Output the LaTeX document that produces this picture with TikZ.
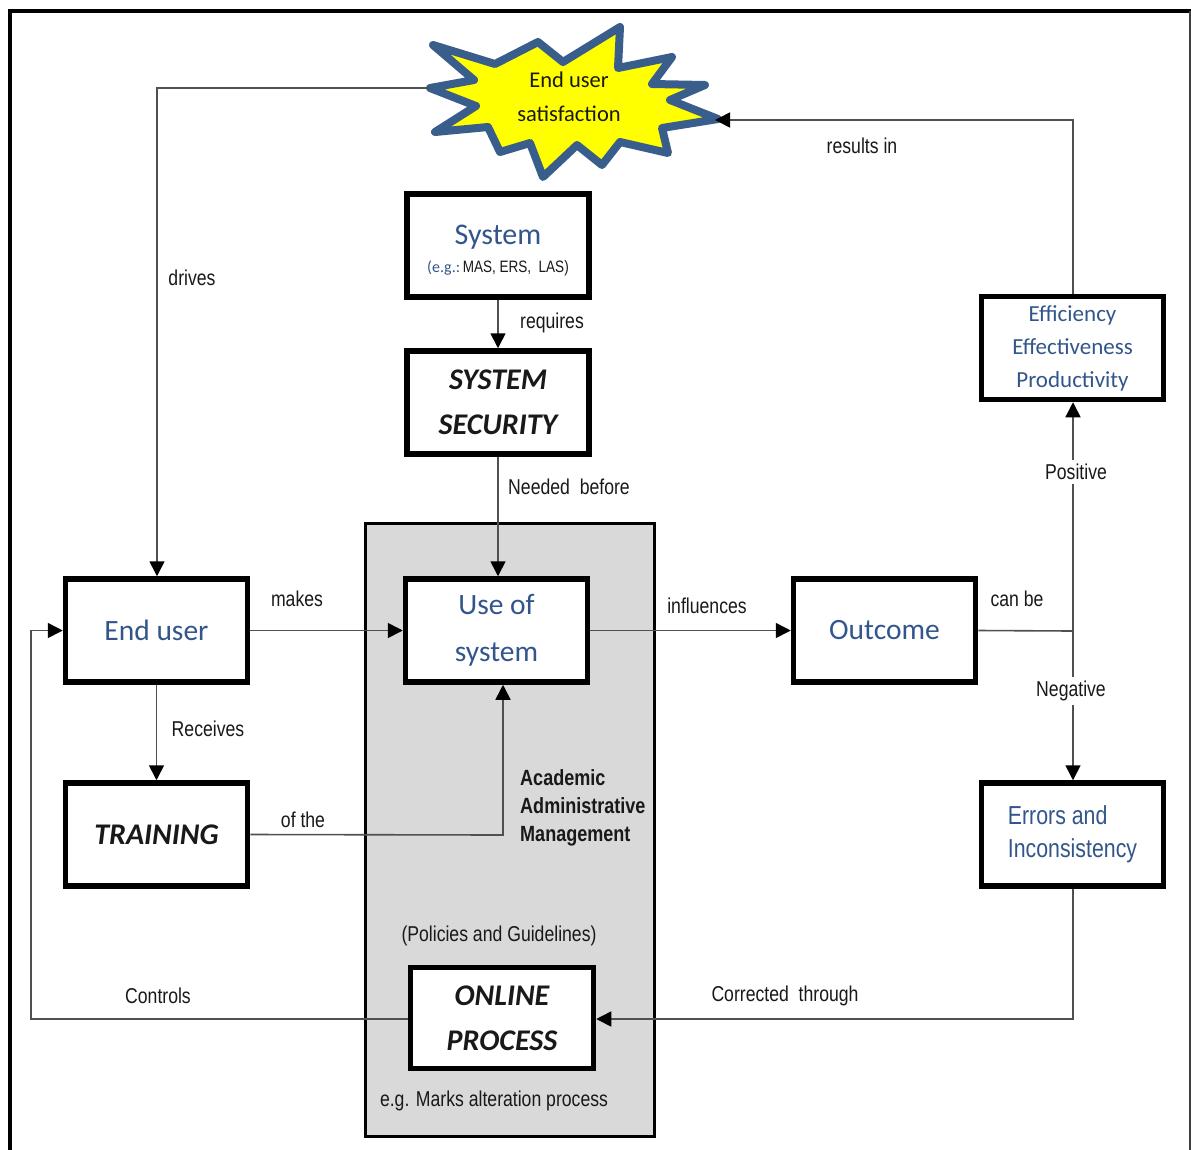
\documentclass[tikz,border=0pt]{standalone}
\usepackage{fontspec}
\setmainfont{Carlito}
\newfontfamily\narrowfont[FakeStretch=0.82]{Liberation Sans}
\usetikzlibrary{arrows.meta,calc}
\definecolor{boxblue}{RGB}{50,86,140}
\definecolor{starblue}{RGB}{58,94,140}
\definecolor{starfill}{RGB}{255,255,0}
\definecolor{wire}{RGB}{80,80,80}
\definecolor{panel}{RGB}{217,217,217}
\definecolor{ink}{RGB}{25,25,25}
\begin{document}
\begin{tikzpicture}[x=1pt,y=-1pt,
  box/.style={draw=black, line width=5.5pt, fill=white, minimum width=182pt,
    minimum height=103pt, inner sep=0pt, align=center},
  bluetext/.style={text=boxblue, font=\fontsize{29.5}{47}\selectfont},
  smallblue/.style={text=boxblue, font=\fontsize{23}{33}\selectfont},
  bolditalic/.style={text=ink, font=\fontsize{30}{45}\selectfont\bfseries\itshape},
  lbl/.style={text=ink, font=\narrowfont\fontsize{21.5}{28}\selectfont, inner sep=1pt},
  wirestyle/.style={draw=wire, line width=1.6pt},
  arr/.style={wirestyle, -{Triangle[length=15pt,width=15pt,color=black]}},
]
\useasboundingbox (0,0) rectangle (1191,1149);
\clip (0,0) rectangle (1191,1149);
\fill[white] (0,0) rectangle (1191,1149);

% outer frame
\draw[line width=4pt, line cap=rect] (10,1170) -- (10,11) -- (1190,11);
\draw[line width=2pt, draw=darkgray] (1190,11) -- (1190,1170);

% shaded panel behind the central column
\draw[line width=3pt, fill=panel] (365,523) rectangle (654,1136);

% star burst
\draw[line width=8pt, draw=starblue, fill=starfill, line join=round]
  (433,45) -- (495,64) -- (538,42) -- (563,62) -- (620,27) -- (618,68)
  -- (672,57) -- (652,84) -- (705,85) -- (670,100) -- (718,119) -- (662,128)
  -- (668,153) -- (620,142) -- (602,165) -- (577,145) -- (543,177) -- (530,143)
  -- (500,152) -- (488,127) -- (435,132) -- (476,106) -- (430,88) -- (474,80) -- cycle;
\node[text=ink, align=center, font=\fontsize{22.5}{34}\selectfont] (star) at (569,97)
  {End user\\satisfaction};
\coordinate (starL) at (430,88);
\coordinate (starR) at (715,120);

% boxes
\node[box] (sys) at (498,245.5) {};
\node[text=boxblue, font=\fontsize{30}{34}\selectfont, inner sep=0pt] (systitle) at (498,237) {System};
\node[inner sep=0pt] (sysex) at (498,268)
  {{\fontsize{16}{20}\selectfont\color{boxblue}(e.g.:\,}{\narrowfont\fontsize{16.5}{20}\selectfont\color{ink}MAS, ERS,\ \ LAS)}};
\node[box, bolditalic] (sec) at (498,402.5) {SYSTEM\\SECURITY};
\node[box, bluetext] (user) at (156.5,630.5) {End user};
\node[box, bluetext] (use) at (496.5,630.5) {Use of\\system};
\node[box, bluetext] (out) at (884.5,630.5) {Outcome};
\node[box, smallblue] (eff) at (1072.5,348) {Efficiency\\Effectiveness\\Productivity};
\node[box, align=left, text=boxblue, font=\narrowfont\fontsize{26}{33}\selectfont]
  (err) at (1072.5,834.5) {Errors and\\Inconsistency};
\node[box, bolditalic] (train) at (156.5,834.5) {TRAINING};
\node[box, bolditalic, minimum width=183pt, minimum height=101pt] (online) at (502,1018)
  {ONLINE\\PROCESS};

% connectors
\coordinate (drv) at (157,88);
\draw[arr] (starL) -- (drv) -- (user.north -| drv);
\coordinate (res) at (1073,120);
\draw[arr] (eff.north -| res) -- (res) -- (starR);
\draw[arr] (sys.south) -- (sec.north);
\draw[arr] (sec.south) -- (sec.south |- use.north);
\draw[arr] (user.east) -- (use.west);
\draw[arr] (use.east) -- (out.west);
\coordinate (split) at (1073,631);
\draw[wirestyle] (out.east) -- (split);
\draw[arr] (split) -- (eff.south -| split);
\draw[arr] (split) -- (err.north -| split);
\draw[arr] (user.south) -- (train.north);
\coordinate (oft) at (503,835);
\draw[arr] (train.east) -- (oft) -- (use.south -| oft);
\coordinate (cor) at (1073,1019);
\draw[arr] (err.south -| cor) -- (cor) -- (online.east |- cor);
\coordinate (ctl) at (31,1019);
\draw[arr] (online.west |- ctl) -- (ctl) |- (user.west);

% connector labels
\node[lbl] (l1) at (192,278) {drives};
\node[lbl] (l2) at (862,146) {results in};
\node[lbl] (l3) at (552,323) {requires};
\node[lbl] (l4) at (569,487) {Needed\ \ before};
\node[lbl] (l5) at (297,599) {makes};
\node[lbl] (l6) at (707,606) {influences};
\node[lbl] (l7) at (1017,599) {can be};
\node[lbl, fill=white, inner sep=4pt] (l8) at (1076,472) {Positive};
\node[lbl, fill=white, inner sep=4pt] (l9) at (1071,691) {Negative};
\node[lbl] (l10) at (208,729) {Receives};
\node[lbl] (l11) at (303,820) {of the};
\node[lbl] (l12) at (785,996) {Corrected\ \ through};
\node[lbl] (l13) at (158,996) {Controls};
\node[lbl] (l14) at (499,936) {(Policies and Guidelines)};
\node[lbl] (l15) at (494,1101) {e.g. Marks alteration process};
\node[lbl, anchor=north west, align=left, font=\narrowfont\bfseries\fontsize{22}{28}\selectfont]
  (l16) at (519,768) {Academic\\Administrative\\Management};
\end{tikzpicture}
\end{document}
